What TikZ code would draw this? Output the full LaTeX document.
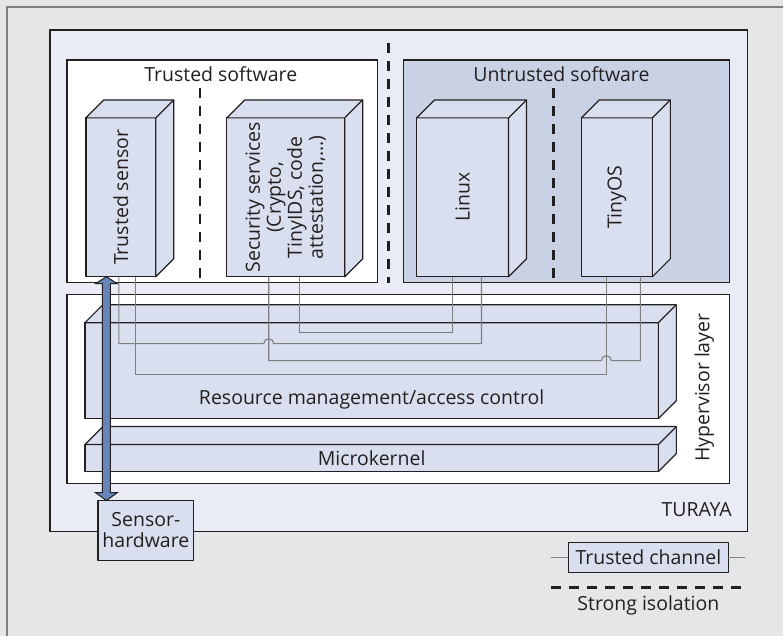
\documentclass[tikz,border=0pt]{standalone}
\usepackage{fontspec}
\setmainfont{Open Sans}
\usepackage{graphicx}
\usetikzlibrary{calc}

\definecolor{bggray}{HTML}{E5E6E8}
\definecolor{turaya}{HTML}{E9ECF5}
\definecolor{untrusted}{HTML}{C9D2E5}
\definecolor{boxblue}{HTML}{D9DFEE}
\definecolor{linegray}{HTML}{7F7F7F}
\definecolor{ink}{HTML}{231F20}
\definecolor{arrowblue}{HTML}{6685B8}

% top and right faces of a box drawn as a node
\newcommand\depthfaces[1]{%
  \filldraw[face] (#1.north west) -- ++(18,-18) -- ([shift={(18,-18)}]#1.north east)
    -- ([shift={(18,-18)}]#1.south east) -- (#1.south east) -- (#1.north east) -- cycle;
  \draw[face] (#1.north east) -- ++(18,-18);
}

\begin{document}
\begin{tikzpicture}[x=1pt,y=-1pt,
  every node/.style={font=\fontsize{19.5}{21}\selectfont,text=ink},
  frame/.style={draw=ink,line width=1.2pt},
  face/.style={fill=boxblue,draw=ink,line width=1.2pt,line join=round},
  front/.style={face,inner sep=0pt,outer sep=0pt},
  isolation/.style={draw=ink,line width=2.6pt,dash pattern=on 10pt off 8pt},
  channel/.style={draw=linegray,line width=1.1pt},
  hwarrow/.style={fill=arrowblue,draw=ink,line width=1pt,line join=miter}]

% background
\fill[bggray] (0,0) rectangle (784,637);
\draw[linegray,line width=1.5pt] (7,637) -- (7,7) -- (784,7);

% TURAYA
\draw[frame,fill=turaya] (50,30) rectangle (748,532);
\node[anchor=east] (turaya) at (736,510) {TURAYA};

% software compartments
\draw[frame,fill=white] (67,60) rectangle (378,283);
\draw[frame,fill=untrusted] (404,60) rectangle (730,283);
\node (trusted) at (221,74) {Trusted software};
\node (untrusted) at (562,74) {Untrusted software};
\draw[isolation] (389,43) -- (389,283);
\draw[isolation] (200,88) -- (200,283);
\draw[isolation] (554,88) -- (554,283);

\node[front,minimum width=70pt,minimum height=159pt] (ts) at (121,197.5) {};
\depthfaces{ts}
\node[rotate=90] (tslabel) at (ts) {Trusted sensor};
\node[front,minimum width=118pt,minimum height=159pt] (ss) at (286,197.5) {};
\depthfaces{ss}
\node[rotate=90,align=center] (sslabel) at (ss) {Security services\\(Crypto,\\TinyIDS, code\\attestation,...)};
\node[front,minimum width=92pt,minimum height=159pt] (lx) at (463,197.5) {};
\depthfaces{lx}
\node[rotate=90] (lxlabel) at (lx) {Linux};
\node[front,minimum width=71pt,minimum height=159pt] (tos) at (617.5,197.5) {};
\depthfaces{tos}
\node[rotate=90] (toslabel) at (tos) {TinyOS};

% hypervisor layer
\draw[frame,fill=white] (67,295) rectangle (730,484);
\node[rotate=90] (hyplabel) at (705,388) {Hypervisor layer};
\node[front,minimum width=574pt,minimum height=96pt] (rm) at (372,371) {};
\depthfaces{rm}
\node[front,minimum width=574pt,minimum height=27pt] (mk) at (372,458.5) {};
\depthfaces{mk}
\node (mklabel) at (mk) {Microkernel};

% trusted channels
\coordinate (ts1) at ([xshift=33pt]ts.south west);
\coordinate (ts2) at ([xshift=50pt]ts.south west);
\coordinate (ss1) at ([xshift=42pt]ss.south west);
\coordinate (ss2) at ([xshift=73pt]ss.south west);
\coordinate (lx1) at ([xshift=36pt]lx.south west);
\coordinate (lx2) at ([xshift=65pt]lx.south west);
\coordinate (os1) at ([xshift=25pt]tos.south west);
\coordinate (os2) at ([xshift=59pt]tos.south west);
\draw[channel] (ss2) -- ++(0,56) -| (lx1);
\draw[channel] (ts1) -- ++(0,67) -- ($(ss1)+(-5,67)$) arc[start angle=180,end angle=360,radius=5] -| (lx2);
\draw[channel] (ss1) -- ++(0,84) -- ($(os1)+(-5,84)$) arc[start angle=180,end angle=360,radius=5] -| (os2);
\draw[channel] (ts2) -- ++(0,98) -| (os1);
\node (rmlabel) at (372,400) {Resource management/access control};

% sensor hardware
\node[front,minimum width=96pt,minimum height=60pt,align=center] (sh) at (146,531) {Sensor-\\hardware};
\coordinate (atop) at ([xshift=20.5pt]ts.south west);
\coordinate (abot) at ([xshift=8.5pt]sh.north west);
\filldraw[hwarrow] (atop) -- ++(11,7) -- ++(-7,0) -- ([shift={(4,-8)}]abot) -- ++(7,0) -- (abot)
  -- ++(-11,-8) -- ++(7,0) -- ([shift={(-4,7)}]atop) -- ++(-7,0) -- cycle;

% legend
\node[front,minimum width=160pt,minimum height=30pt] (tc) at (649,558) {Trusted channel};
\coordinate (tcl) at (552,558);
\coordinate (tcr) at (746,558);
\draw[channel] (tcl) -- (tc.west);
\draw[channel] (tc.east) -- (tcr);
\coordinate (sil) at (552,588);
\coordinate (sir) at (746,588);
\draw[isolation] (sil) -- (sir);
\node (silabel) at (649,606) {Strong isolation};
\end{tikzpicture}
\end{document}
